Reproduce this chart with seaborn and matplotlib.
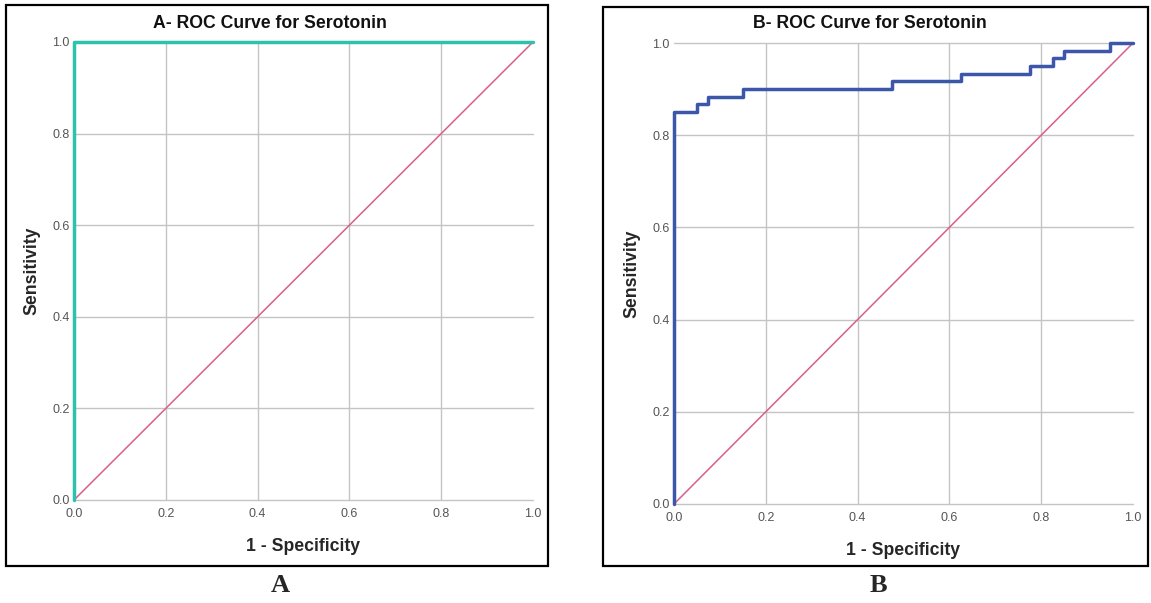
import numpy as np
import pandas as pd
import matplotlib
matplotlib.use("Agg")
import matplotlib.pyplot as plt
import seaborn as sns
from matplotlib.patches import Rectangle

# ROC points
fpr_a = [0.0, 0.0, 1.0]
tpr_a = [0.0, 1.0, 1.0]

fpr_b = [0.0, 0.0, 0.05, 0.05, 0.075, 0.075, 0.15, 0.15, 0.475, 0.475, 0.625,
         0.625, 0.775, 0.775, 0.825, 0.825, 0.85, 0.85, 0.95, 0.95, 1.0]
tpr_b = [0.0, 0.85, 0.85, 0.867, 0.867, 0.883, 0.883, 0.9, 0.9, 0.917, 0.917,
         0.933, 0.933, 0.95, 0.95, 0.967, 0.967, 0.983, 0.983, 1.0, 1.0]

ref_line = [0.0, 1.0]
ticks = [0.0, 0.2, 0.4, 0.6, 0.8, 1.0]
titles = ["A- ROC Curve for Serotonin", "B- ROC Curve for Serotonin"]
letters = ["A", "B"]

sns.set_style("white")
plt.rcParams["font.family"] = ["Liberation Sans", "DejaVu Sans"]

W, H = 1151, 603
fig = plt.figure(figsize=(W / 100, H / 100), dpi=100)


def px_axes(l, t, r, b):
    return fig.add_axes([l / W, 1 - b / H, (r - l) / W, (b - t) / H])


def px_box(l, t, r, b):
    fig.patches.append(Rectangle((l / W, 1 - b / H), (r - l) / W, (b - t) / H,
                                 transform=fig.transFigure, fill=False,
                                 edgecolor="black", linewidth=1.6))


px_box(6, 5, 548, 566)
px_box(603, 7, 1148, 566)

ax_a = px_axes(74, 42, 533, 500)
ax_b = px_axes(674, 43, 1133, 504)

curves = [(fpr_a, tpr_a, "#2ec2ad"), (fpr_b, tpr_b, "#3c56aa")]
title_pos = [(270, 23), (870, 24)]

for ax, (fx, ty, col), title, (tx, tyy) in zip([ax_a, ax_b], curves, titles, title_pos):
    for t in ticks[1:-1]:
        ax.axvline(t, color="#c4c4c4", lw=1, zorder=0)
    for t in ticks:
        ax.axhline(t, color="#c4c4c4", lw=1, zorder=0)
    diag = pd.DataFrame({"x": ref_line, "y": ref_line})
    sns.lineplot(data=diag, x="x", y="y", ax=ax, color="#d95f86", lw=1.1,
                 sort=False, estimator=None)
    roc = pd.DataFrame({"x": fx, "y": ty})
    sns.lineplot(data=roc, x="x", y="y", ax=ax, color=col, lw=2.5,
                 sort=False, estimator=None)
    ax.set_xlim(0, 1)
    ax.set_ylim(0, 1)
    ax.set_xticks(ticks)
    ax.set_yticks(ticks)
    ax.set_xticklabels([f"{t:.1f}" for t in ticks])
    ax.set_yticklabels([f"{t:.1f}" for t in ticks])
    ax.tick_params(length=0, labelsize=9, labelcolor="#555555")
    ax.tick_params(axis="x", pad=6)
    ax.tick_params(axis="y", pad=3)
    for s in ax.spines.values():
        s.set_visible(False)
    ax.set_xlabel("1 - Specificity", fontsize=12.7, fontweight="bold", labelpad=13)
    ax.set_ylabel("Sensitivity", fontsize=12.7, fontweight="bold", labelpad=9)
    fig.text(tx / W, 1 - tyy / H, title, ha="center", va="center",
             fontsize=12.7, fontweight="bold", color="#111111")
    for ln in ax.lines:
        ln.set_clip_on(False)

fig.text(280 / W, 1 - 586 / H, letters[0], ha="center", va="center",
         family="Liberation Serif", fontweight="bold", fontsize=19)
fig.text(878 / W, 1 - 586 / H, letters[1], ha="center", va="center",
         family="Liberation Serif", fontweight="bold", fontsize=19)

fig.savefig("out.png", dpi=100)
